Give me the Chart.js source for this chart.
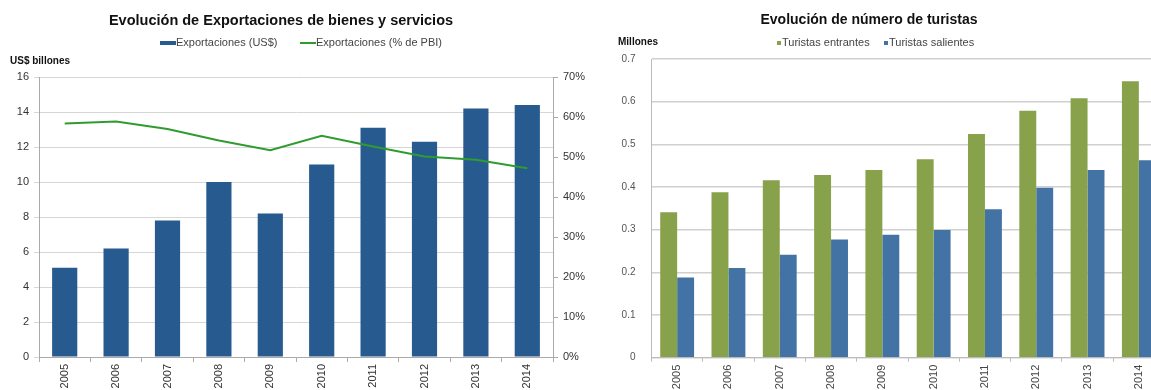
<!DOCTYPE html>
<html><head><meta charset="utf-8">
<script src="https://cdn.jsdelivr.net/npm/chart.js@4"></script>
<style>
html,body{margin:0;padding:0;background:#fff;overflow:hidden;width:1151px;height:390px}
#w1{position:absolute;left:0;top:0;width:600px;height:390px}
#w2{position:absolute;left:580px;top:0;width:600px;height:390px}
canvas{display:block}
</style></head><body>
<div id="w1"><canvas id="c1" width="600" height="390"></canvas></div>
<div id="w2"><canvas id="c2" width="600" height="390"></canvas></div>
<script>
const years = ['2005','2006','2007','2008','2009','2010','2011','2012','2013','2014'];
const exportsUSD = [5.1, 6.2, 7.8, 10.0, 8.2, 11.0, 13.1, 12.3, 14.2, 14.4];
const exportsPctGDP = [58.4, 58.9, 57.0, 54.1, 51.7, 55.3, 52.6, 50.1, 49.3, 47.2];
const touristsIn = [0.341, 0.388, 0.416, 0.428, 0.440, 0.465, 0.524, 0.579, 0.608, 0.648];
const touristsOut = [0.188, 0.210, 0.241, 0.277, 0.288, 0.299, 0.348, 0.398, 0.440, 0.463];
const title1 = 'Evolución de Exportaciones de bienes y servicios';
const title2 = 'Evolución de número de turistas';
const unit1 = 'US$ billones';
const unit2 = 'Millones';
const legend1 = ['Exportaciones (US$)', 'Exportaciones (% de PBI)'];
const legend2 = ['Turistas entrantes', 'Turistas salientes'];

const FONT = '"Liberation Sans", Arial, sans-serif';
const C_BLUE1 = '#275b8f';
const C_GREEN1 = '#2f9c2f';
const C_GREEN2 = '#87a24b';
const C_BLUE2 = '#4372a4';

Chart.defaults.font.family = FONT;
Chart.defaults.animation = false;

const overlay1 = {
  id: 'overlay1',
  afterDraw(chart) {
    const c = chart.ctx; c.save();
    c.textBaseline = 'middle';
    c.fillStyle = '#111'; c.textAlign = 'center';
    c.font = 'bold 14.5px ' + FONT;
    c.fillText(title1, 281, 21);
    c.textAlign = 'left';
    c.font = 'bold 10px ' + FONT;
    c.fillText(unit1, 10, 61);
    c.font = '11px ' + FONT; c.fillStyle = '#444';
    c.fillStyle = C_BLUE1; c.fillRect(160, 41, 16, 4);
    c.fillStyle = '#444'; c.fillText(legend1[0], 176, 43);
    c.strokeStyle = C_GREEN1; c.lineWidth = 2;
    c.beginPath(); c.moveTo(300, 43); c.lineTo(316, 43); c.stroke();
    c.fillText(legend1[1], 316, 43);
    c.restore();
  }
};

new Chart(document.getElementById('c1'), {
  type: 'bar',
  data: {
    labels: years,
    datasets: [
      { type: 'line', label: legend1[1], data: exportsPctGDP, yAxisID: 'y2',
        borderColor: C_GREEN1, borderWidth: 2, pointRadius: 0, tension: 0, order: 0 },
      { type: 'bar', label: legend1[0], data: exportsUSD, yAxisID: 'y',
        backgroundColor: C_BLUE1, categoryPercentage: 0.49, barPercentage: 1, order: 1 }
    ]
  },
  options: {
    responsive: false,
    layout: { padding: { top: 77, left: 0, right: 0, bottom: 0 } },
    plugins: { legend: { display: false }, tooltip: { enabled: false } },
    scales: {
      x: {
        grid: { display: true, drawOnChartArea: false, offset: true, tickLength: 5, color: '#aaa' },
        border: { color: '#aaa' },
        ticks: { minRotation: 90, maxRotation: 90, padding: 2, color: '#333', font: { size: 11 } },
        afterFit(s) { s.height = 33; }
      },
      y: {
        min: 0, max: 16,
        ticks: { stepSize: 2, color: '#333', font: { size: 11 }, padding: 5 },
        grid: { color: '#d6d6d6', tickLength: 5 },
        border: { color: '#aaa' },
        afterFit(s) { s.width = 39; }
      },
      y2: {
        position: 'right', min: 0, max: 70,
        ticks: { stepSize: 10, color: '#333', font: { size: 11 }, padding: 5, callback: v => v + '%' },
        grid: { drawOnChartArea: false, tickLength: 5, color: '#aaa' },
        border: { color: '#aaa' },
        afterFit(s) { s.width = 47; }
      }
    }
  },
  plugins: [overlay1]
});

const overlay2 = {
  id: 'overlay2',
  afterDraw(chart) {
    const c = chart.ctx; c.save();
    c.textBaseline = 'middle';
    c.fillStyle = '#111'; c.textAlign = 'center';
    c.font = 'bold 14px ' + FONT;
    c.fillText(title2, 289, 20);
    c.textAlign = 'left';
    c.font = 'bold 10px ' + FONT;
    c.fillText(unit2, 38, 42);
    c.font = '11px ' + FONT;
    c.fillStyle = C_GREEN2; c.fillRect(197, 41, 4, 4);
    c.fillStyle = '#444'; c.fillText(legend2[0], 202, 43);
    c.fillStyle = C_BLUE2; c.fillRect(304, 41, 4, 4);
    c.fillStyle = '#444'; c.fillText(legend2[1], 309, 43);
    c.restore();
  }
};

new Chart(document.getElementById('c2'), {
  type: 'bar',
  data: {
    labels: years,
    datasets: [
      { label: legend2[0], data: touristsIn, backgroundColor: C_GREEN2, categoryPercentage: 0.66, barPercentage: 1 },
      { label: legend2[1], data: touristsOut, backgroundColor: C_BLUE2, categoryPercentage: 0.66, barPercentage: 1 }
    ]
  },
  options: {
    responsive: false,
    layout: { padding: { top: 59, left: 0, right: 15.5, bottom: 0 } },
    plugins: { legend: { display: false }, tooltip: { enabled: false } },
    scales: {
      x: {
        grid: { display: true, drawOnChartArea: false, offset: true, tickLength: 4, color: '#bbb' },
        border: { color: '#bbb' },
        ticks: { minRotation: 90, maxRotation: 90, padding: 3, color: '#444', font: { size: 11 } },
        afterFit(s) { s.height = 32.3; }
      },
      y: {
        min: 0, max: 0.7,
        ticks: { stepSize: 0.1, color: '#555', font: { size: 10 }, padding: 16 },
        grid: { color: '#d0d0d0', lineWidth: 1.5, drawTicks: false },
        border: { color: '#bbb' },
        afterFit(s) { s.width = 71.5; }
      }
    }
  },
  plugins: [overlay2]
});
</script>
</body></html>
